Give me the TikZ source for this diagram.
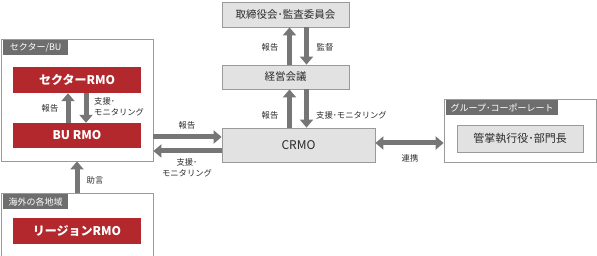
\documentclass[tikz,border=0pt]{standalone}
\usepackage{fontspec}
\setmainfont{Noto Sans CJK JP}
\usetikzlibrary{arrows.meta}
\definecolor{rmored}{HTML}{B3282D}
\definecolor{tabgray}{HTML}{6E6E6E}
\definecolor{boxfill}{HTML}{E2E2E2}
\definecolor{boxline}{HTML}{9A9A9A}
\definecolor{arrgray}{HTML}{767676}
\definecolor{txt}{HTML}{2A2A2A}
\tikzset{
  outerbox/.style={draw=boxline, line width=0.8pt, fill=white, inner sep=0pt},
  tabbox/.style={fill=tabgray, text=white, inner sep=0pt, minimum height=15pt, font=\fontsize{9}{10}\selectfont},
  redbox/.style={fill=rmored, text=white, inner sep=0pt, minimum width=128pt, minimum height=26pt, font=\bfseries\fontsize{12}{14}\selectfont},
  graybox/.style={draw=boxline, line width=0.8pt, fill=boxfill, text=txt, inner sep=0pt, font=\fontsize{10.5}{12}\selectfont},
  lbl/.style={text=txt, inner sep=0pt, font=\fontsize{8.3}{11}\selectfont},
  bigarrow/.style={draw=arrgray, line width=5pt, -{Triangle[width=13pt,length=8pt]}, color=arrgray},
  dblarrow/.style={draw=arrgray, line width=5pt, {Triangle[width=13pt,length=8pt]}-{Triangle[width=13pt,length=8pt]}, color=arrgray}
}
\begin{document}
\begin{tikzpicture}[x=1pt,y=-1pt]
\useasboundingbox (0,0) rectangle (597,256);
% Sector/BU
\node[outerbox, minimum width=152pt, minimum height=122pt] (sector) at (77,100) {};
\node[tabbox, minimum width=65pt, anchor=north west] (sectortab) at (3,40) {セクター/BU};
\node[redbox] (srmo) at (77,80) {セクターRMO};
\node[redbox, minimum height=25pt] (burmo) at (77,135.5) {BU RMO};
\draw[bigarrow] ([xshift=-9pt]burmo.north) -- ([xshift=-9pt]srmo.south);
\draw[bigarrow] ([xshift=9pt]srmo.south) -- ([xshift=9pt]burmo.north);
\node[lbl] (l1) at (50,108) {報告};
\node[lbl, anchor=west, align=left] (l2) at (94,106.5) {支援･\\モニタリング};
% Region
\node[outerbox, minimum width=152pt, minimum height=63pt] (region) at (77,225) {};
\node[tabbox, minimum width=65pt, anchor=north west] (regiontab) at (3,194) {海外の各地域};
\node[redbox] (rrmo) at (77,231) {リージョンRMO};
\draw[bigarrow] (region.north) -- (sector.south);
\node[lbl] (l3) at (95,180) {助言};
% Center column
\node[graybox, minimum width=127pt, minimum height=25pt] (board) at (285.5,14.5) {取締役会･監査委員会};
\node[graybox, minimum width=127pt, minimum height=24pt] (keiei) at (285.5,77) {経営会議};
\node[graybox, minimum width=153pt, minimum height=34pt, font=\fontsize{12}{14}\selectfont] (crmo) at (298.5,145) {CRMO};
\draw[bigarrow] ([xshift=4pt]keiei.north) -- ([xshift=4pt]board.south);
\draw[bigarrow] ([xshift=21pt]board.south) -- ([xshift=21pt]keiei.north);
\draw[bigarrow] ([xshift=-9pt]crmo.north) -- ([xshift=4pt]keiei.south);
\draw[bigarrow] ([xshift=21pt]keiei.south) -- ([xshift=8pt]crmo.north);
\node[lbl] (l4) at (270,47) {報告};
\node[lbl] (l5) at (325,47) {監督};
\node[lbl] (l6) at (270,115) {報告};
\node[lbl, anchor=west] (l7) at (316,115) {支援･モニタリング};
% Left connectors
\coordinate (r1) at ([yshift=8pt]crmo.west);
\coordinate (r2) at ([yshift=-6pt]crmo.west);
\draw[bigarrow] (sector.east |- r1) -- (r1);
\draw[bigarrow] (r2) -- (sector.east |- r2);
\node[lbl] (l8) at (187,125) {報告};
\node[lbl, align=center] (l9) at (187,168) {支援･\\モニタリング};
% Group
\node[outerbox, minimum width=152pt, minimum height=63pt] (group) at (520,130.5) {};
\node[tabbox, minimum width=112pt, anchor=north west] (grouptab) at (446,100) {グループ･コーポーレート};
\node[graybox, minimum width=126pt, minimum height=27pt, font=\fontsize{11}{13}\selectfont] (exec) at (520,138.5) {管掌執行役･部門長};
\coordinate (c1) at ([yshift=2pt]crmo.east);
\draw[dblarrow] (c1) -- (c1 -| group.west);
\node[lbl] (l10) at (410,158) {連携};
\end{tikzpicture}
\end{document}
